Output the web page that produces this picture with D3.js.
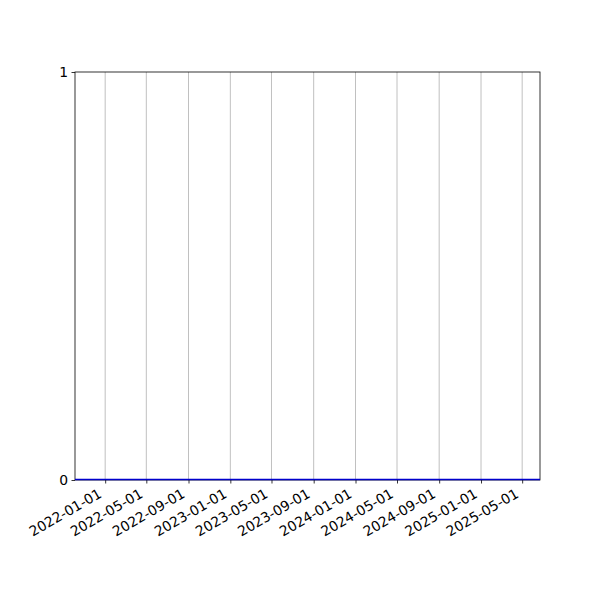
<!DOCTYPE html>
<html>
<head>
<meta charset="utf-8">
<script src="https://cdn.jsdelivr.net/npm/d3@7"></script>
<style>
  body { margin: 0; background: #fff; }
  svg { font-family: "DejaVu Sans", sans-serif; }
</style>
</head>
<body>
<svg id="chart" width="600" height="600"></svg>
<script>
// data: every value sits at zero
const dates = ['2021-10-05', '2022-06-01', '2023-01-01', '2023-09-01', '2024-05-01', '2025-01-01', '2025-06-22'];
const values = [0, 0, 0, 0, 0, 0, 0];
const xDomain = ['2021-10-05', '2025-06-22'];
const yTicks = [0, 1];
const xTickLabels = ['2022-01-01', '2022-05-01', '2022-09-01', '2023-01-01', '2023-05-01', '2023-09-01',
  '2024-01-01', '2024-05-01', '2024-09-01', '2025-01-01', '2025-05-01'];

const parse = d3.utcParse('%Y-%m-%d');
const margin = { left: 75, right: 60, top: 72, bottom: 120 };
const width = 600, height = 600;

const svg = d3.select('#chart');

const x = d3.scaleUtc()
  .domain(xDomain.map(parse))
  .range([margin.left, width - margin.right]);
const y = d3.scaleLinear()
  .domain([0, 1])
  .range([height - margin.bottom, margin.top]);

const tickDates = xTickLabels.map(parse);

// vertical grid
svg.append('g')
  .selectAll('line')
  .data(tickDates)
  .join('line')
  .attr('x1', (d) => x(d)).attr('x2', (d) => x(d))
  .attr('y1', y(0)).attr('y2', y(1))
  .attr('stroke', '#b0b0b0')
  .attr('stroke-width', 0.8);

// x axis, labels rotated like autofmt_xdate
const xAxis = svg.append('g')
  .attr('transform', `translate(0,${y(0)})`)
  .call(d3.axisBottom(x).tickValues(tickDates).tickSize(3.5).tickPadding(3.5)
    .tickFormat(d3.utcFormat('%Y-%m-%d')));
xAxis.select('.domain').remove();
xAxis.selectAll('line').attr('stroke', '#000').attr('stroke-width', 0.8);
xAxis.selectAll('text')
  .attr('font-size', 13.9)
  .attr('font-family', 'DejaVu Sans')
  .attr('fill', '#000')
  .attr('text-anchor', 'end')
  .attr('y', 0)
  .attr('dy', 0)
  .attr('transform', 'translate(-3,16.5) rotate(-30)');

// y axis
const yAxis = svg.append('g')
  .attr('transform', `translate(${margin.left},0)`)
  .call(d3.axisLeft(y).tickValues(yTicks).tickSize(3.5).tickPadding(3.5).tickFormat(d3.format('d')));
yAxis.select('.domain').remove();
yAxis.selectAll('line').attr('stroke', '#000').attr('stroke-width', 0.8);
yAxis.selectAll('text')
  .attr('font-size', 13.9)
  .attr('font-family', 'DejaVu Sans')
  .attr('fill', '#000');

// frame
svg.append('rect')
  .attr('x', margin.left)
  .attr('y', margin.top)
  .attr('width', width - margin.left - margin.right)
  .attr('height', height - margin.top - margin.bottom)
  .attr('fill', 'none')
  .attr('stroke', '#000')
  .attr('stroke-width', 0.8);

// zero line, on top of the bottom spine
const line = d3.line()
  .x((d, i) => x(parse(dates[i])))
  .y((d) => y(d) - 0.5);
svg.append('path')
  .datum(values)
  .attr('d', line)
  .attr('fill', 'none')
  .attr('stroke', '#0000cc')
  .attr('stroke-width', 1.5);
</script>
</body>
</html>
